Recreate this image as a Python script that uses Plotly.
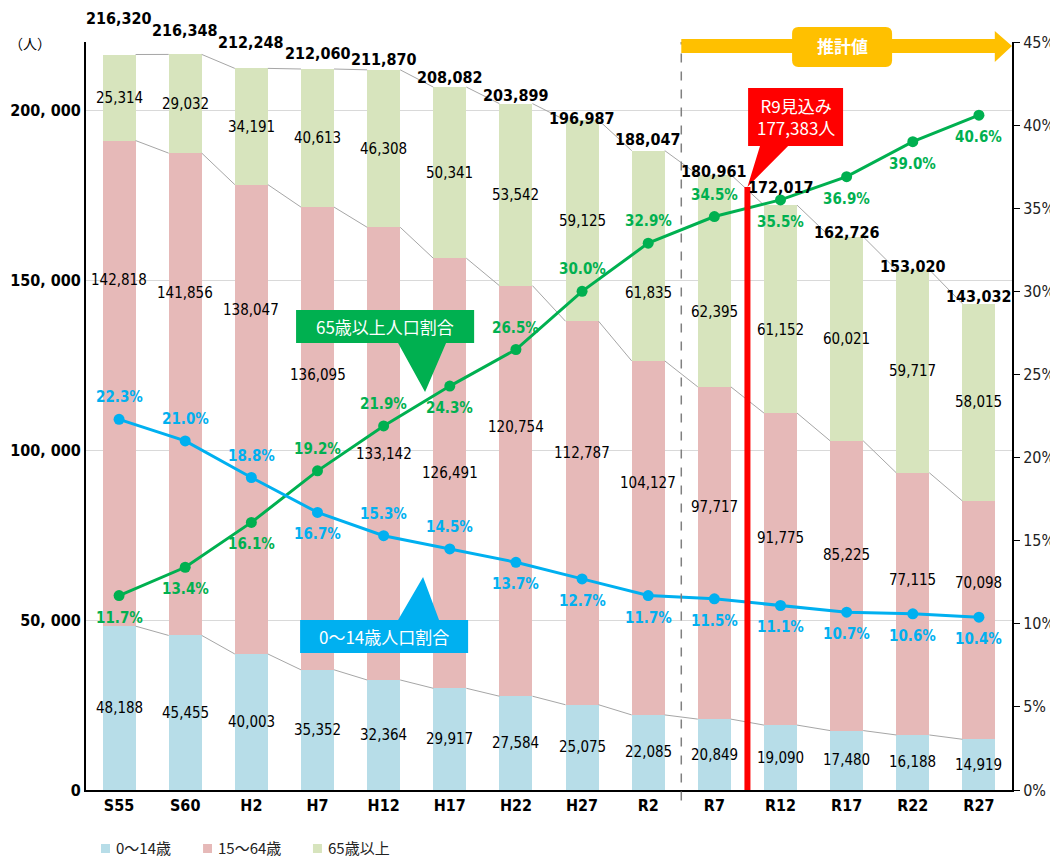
import plotly.graph_objects as go
import numpy as np

cats = ['S55', 'S60', 'H2', 'H7', 'H12', 'H17', 'H22', 'H27', 'R2', 'R7', 'R12', 'R17', 'R22', 'R27']
young = [48188, 45455, 40003, 35352, 32364, 29917, 27584, 25075, 22085, 20849, 19090, 17480, 16188, 14919]
working = [142818, 141856, 138047, 136095, 133142, 126491, 120754, 112787, 104127, 97717, 91775, 85225, 77115, 70098]
old = [25314, 29032, 34191, 40613, 46308, 50341, 53542, 59125, 61835, 62395, 61152, 60021, 59717, 58015]
total = [216320, 216348, 212248, 212060, 211870, 208082, 203899, 196987, 188047, 180961, 172017, 162726, 153020, 143032]
young_pct = [22.3, 21.0, 18.8, 16.7, 15.3, 14.5, 13.7, 12.7, 11.7, 11.5, 11.1, 10.7, 10.6, 10.4]
old_pct = [11.7, 13.4, 16.1, 19.2, 21.9, 24.3, 26.5, 30.0, 32.9, 34.5, 35.5, 36.9, 39.0, 40.6]
groups = ['0〜14歳', '15〜64歳', '65歳以上']
r9_label = 'R9見込み'
r9_value = 177383

# label placement (as in the original, several labels were moved by hand)
work_lab_frac = [0.713, 0.71, 0.733, 0.637, 0.5, 0.5, 0.656, 0.656, 0.655, 0.638, 0.60, 0.606, 0.591, 0.656]
old_lab_frac = [0.5, 0.5, 0.5, 0.5, 0.5, 0.5, 0.5, 0.5, 0.323, 0.353, 0.40, 0.5, 0.5, 0.5]
total_lab_shift = [36, 24, 26, 16, 10, 5, 1, 2, 11, 3, 18, 4, 3, 7]
young_pct_pos = ['t', 't', 't', 'b', 't', 't', 'b', 'b', 'b', 'b', 'b', 'b', 'b', 'b']
old_pct_pos = ['b', 'b', 'b', 't', 't', 'b', 't', 't', 't', 't', 'b', 'b', 'b', 'b']

NUM = 'DejaVu Sans Condensed, Liberation Sans Narrow, Arial Narrow, Noto Sans CJK JP, sans-serif'
JP = 'Noto Sans CJK JP, sans-serif'
Y_MAX, P_MAX = 220000, 45
BLUE, GREEN = '#00b0f0', '#00b050'
BAR_COLORS = ['#b7dde8', '#e6b9b8', '#d7e4bd']

xpos = np.arange(len(cats))
cum1 = np.array(young)
cum2 = cum1 + np.array(working)
cum3 = cum2 + np.array(old)

fig = go.Figure()
for vals, name, col in zip((young, working, old), groups, BAR_COLORS):
    fig.add_trace(go.Bar(x=xpos, y=vals, name=name, marker=dict(color=col, line=dict(width=0)), width=0.5,
                         showlegend=False))

# series lines between the bars
for lvl in (cum1, cum2, cum3):
    sx, sy = [], []
    for i in range(len(cats) - 1):
        sx += [xpos[i] + 0.25, xpos[i + 1] - 0.25, None]
        sy += [lvl[i], lvl[i + 1], None]
    fig.add_trace(go.Scatter(x=sx, y=sy, mode='lines', line=dict(color='#a6a6a6', width=1),
                             showlegend=False, hoverinfo='skip'))

fig.add_trace(go.Scatter(x=xpos, y=old_pct, yaxis='y2', mode='lines+markers', name='65歳以上人口割合',
                         line=dict(color=GREEN, width=3), marker=dict(size=11, color=GREEN), showlegend=False))
fig.add_trace(go.Scatter(x=xpos, y=young_pct, yaxis='y2', mode='lines+markers', name='0〜14歳人口割合',
                         line=dict(color=BLUE, width=3), marker=dict(size=11, color=BLUE), showlegend=False))

# R9 estimate line (drawn on the % axis so that it stays on top)
r9_x = (cats.index('R7') + cats.index('R12')) / 2
fig.add_trace(go.Scatter(x=[r9_x, r9_x], y=[0, r9_value * P_MAX / Y_MAX], yaxis='y2', mode='lines',
                         line=dict(color='#ff0000', width=6), showlegend=False, hoverinfo='skip'))


def label(x, y, text, font, **kw):
    d = dict(x=x, y=y, text=text, showarrow=False, xanchor='center', yanchor='middle', font=font)
    d.update(kw)
    return d


ann = []
for i in range(len(cats)):
    ann.append(label(xpos[i], young[i] / 2, f'{young[i]:,}', dict(family=NUM, size=15, color='black')))
    ann.append(label(xpos[i], cum1[i] + working[i] * work_lab_frac[i], f'{working[i]:,}',
                     dict(family=NUM, size=15, color='black')))
    ann.append(label(xpos[i], cum2[i] + old[i] * old_lab_frac[i], f'{old[i]:,}',
                     dict(family=NUM, size=15, color='black')))
    ann.append(label(xpos[i], total[i], f'{total[i]:,}', dict(family=NUM, size=16, color='black', weight='bold'),
                     yshift=total_lab_shift[i]))
    ann.append(label(xpos[i], young_pct[i], f'{young_pct[i]:.1f}%', dict(family=NUM, size=15, color=BLUE, weight='bold'),
                     yref='y2', yshift=22 if young_pct_pos[i] == 't' else -22))
    ann.append(label(xpos[i], old_pct[i], f'{old_pct[i]:.1f}%', dict(family=NUM, size=15, color=GREEN, weight='bold'),
                     yref='y2', yshift=22 if old_pct_pos[i] == 't' else -22))

ann.append(label(-0.061, 0.9987, '（人）', dict(family=JP, size=14, color='black'), xref='paper', yref='paper'))
ann.append(label(10.93, 0.9947, '推計値', dict(family=JP, size=17, color='white', weight='bold'), yref='paper'))
ann.append(label(10.23, 198000, f'{r9_label}<br>{r9_value:,}人', dict(family=JP, size=17, color='white')))
ann.append(label(4.02, 0.6197, '65歳以上人口割合', dict(family=JP, size=17, color='white'), yref='paper'))
ann.append(label(4.0, 0.2052, '0〜14歳人口割合', dict(family=JP, size=17, color='white'), yref='paper'))

shapes = [
    # boundary between actual and projected values
    dict(type='line', xref='x', yref='paper', x0=8.5, x1=8.5, y0=-0.014, y1=1.0,
         line=dict(color='#808080', width=1.5, dash='dash'), layer='above'),
    # projection arrow
    dict(type='path', xref='x', yref='paper', layer='above', fillcolor='#ffc000', line=dict(width=0),
         path='M 8.5 1.004 L 13.24 1.004 L 13.24 1.0147 L 13.5 0.9947 L 13.24 0.9733 L 13.24 0.9853 L 8.5 0.9853 Z'),
    dict(type='path', xref='x', yref='paper', layer='above', fillcolor='#ffc000', line=dict(width=0),
         path='M 10.27 1.020 L 11.59 1.020 Q 11.687 1.020 11.687 1.011 L 11.687 0.9756 Q 11.687 0.9666 11.59 0.9666 '
              'L 10.27 0.9666 Q 10.175 0.9666 10.175 0.9756 L 10.175 1.011 Q 10.175 1.020 10.27 1.020 Z'),
    # R9 callout
    dict(type='path', xref='x', yref='y', layer='above', fillcolor='#ff0000', line=dict(width=0),
         path=f'M 9.51 206500 L 10.946 206500 L 10.946 189400 L 10.115 189400 L {r9_x} {r9_value} '
              f'L 9.69 189400 L 9.51 189400 Z'),
    # 65+ callout
    dict(type='path', xref='x', yref='paper', layer='above', fillcolor=GREEN, line=dict(width=0),
         path='M 2.676 0.6417 L 5.368 0.6417 L 5.368 0.5976 L 4.944 0.5976 L 4.626 0.532 L 4.218 0.5976 '
              'L 2.676 0.5976 Z'),
    # 0-14 callout
    dict(type='path', xref='x', yref='paper', layer='above', fillcolor=BLUE, line=dict(width=0),
         path='M 2.737 0.2273 L 4.218 0.2273 L 4.596 0.2848 L 4.838 0.2273 L 5.277 0.2273 L 5.277 0.1832 '
              'L 2.737 0.1832 Z'),
]

# legend below the plot
for x0, name, col in zip((0.0162, 0.1264, 0.2451), groups, BAR_COLORS):
    shapes.append(dict(type='rect', xref='paper', yref='paper', x0=x0, x1=x0 + 0.0097, y0=-0.0842, y1=-0.0722,
                       fillcolor=col, line=dict(width=0)))
    ann.append(dict(x=x0 + 0.014, y=-0.0775, xref='paper', yref='paper', text=name, showarrow=False,
                    xanchor='left', yanchor='middle', font=dict(family=JP, size=15, color='#222')))

ytick = list(range(0, 200001, 50000))
ptick = list(range(0, P_MAX + 1, 5))
# the page body adds an 8px offset, so the figure is 8px smaller than the window
fig.update_layout(
    width=1050, height=853,
    margin=dict(l=78, r=46, t=34, b=71),
    plot_bgcolor='white', paper_bgcolor='white',
    barmode='stack', bargap=0.5,
    showlegend=False,
    xaxis=dict(range=[-0.5, len(cats) - 0.5], tickvals=xpos, ticktext=cats, showgrid=False, zeroline=False,
               showline=True, linecolor='black', linewidth=2, ticks='', automargin=False,
               tickfont=dict(family=NUM, size=16, color='black', weight='bold')),
    yaxis=dict(range=[0, Y_MAX], tickvals=ytick, ticktext=['0' if v == 0 else f'{v:,}'.replace(',', ', ') for v in ytick],
               showgrid=True, gridcolor='#d9d9d9', gridwidth=1, zeroline=False, automargin=False,
               showline=True, linecolor='black', linewidth=2, ticks='',
               tickfont=dict(family=NUM, size=16, color='black', weight='bold')),
    yaxis2=dict(range=[0, P_MAX], overlaying='y', side='right', tickvals=ptick, ticktext=[f'{v}%' for v in ptick],
                showgrid=False, zeroline=False, showline=True, linecolor='black', linewidth=2, automargin=False,
                ticks='outside', ticklen=6, tickcolor='black',
                tickfont=dict(family=NUM, size=16, color='#222')),
    annotations=ann,
    shapes=shapes,
)

fig.write_html('out.html')
